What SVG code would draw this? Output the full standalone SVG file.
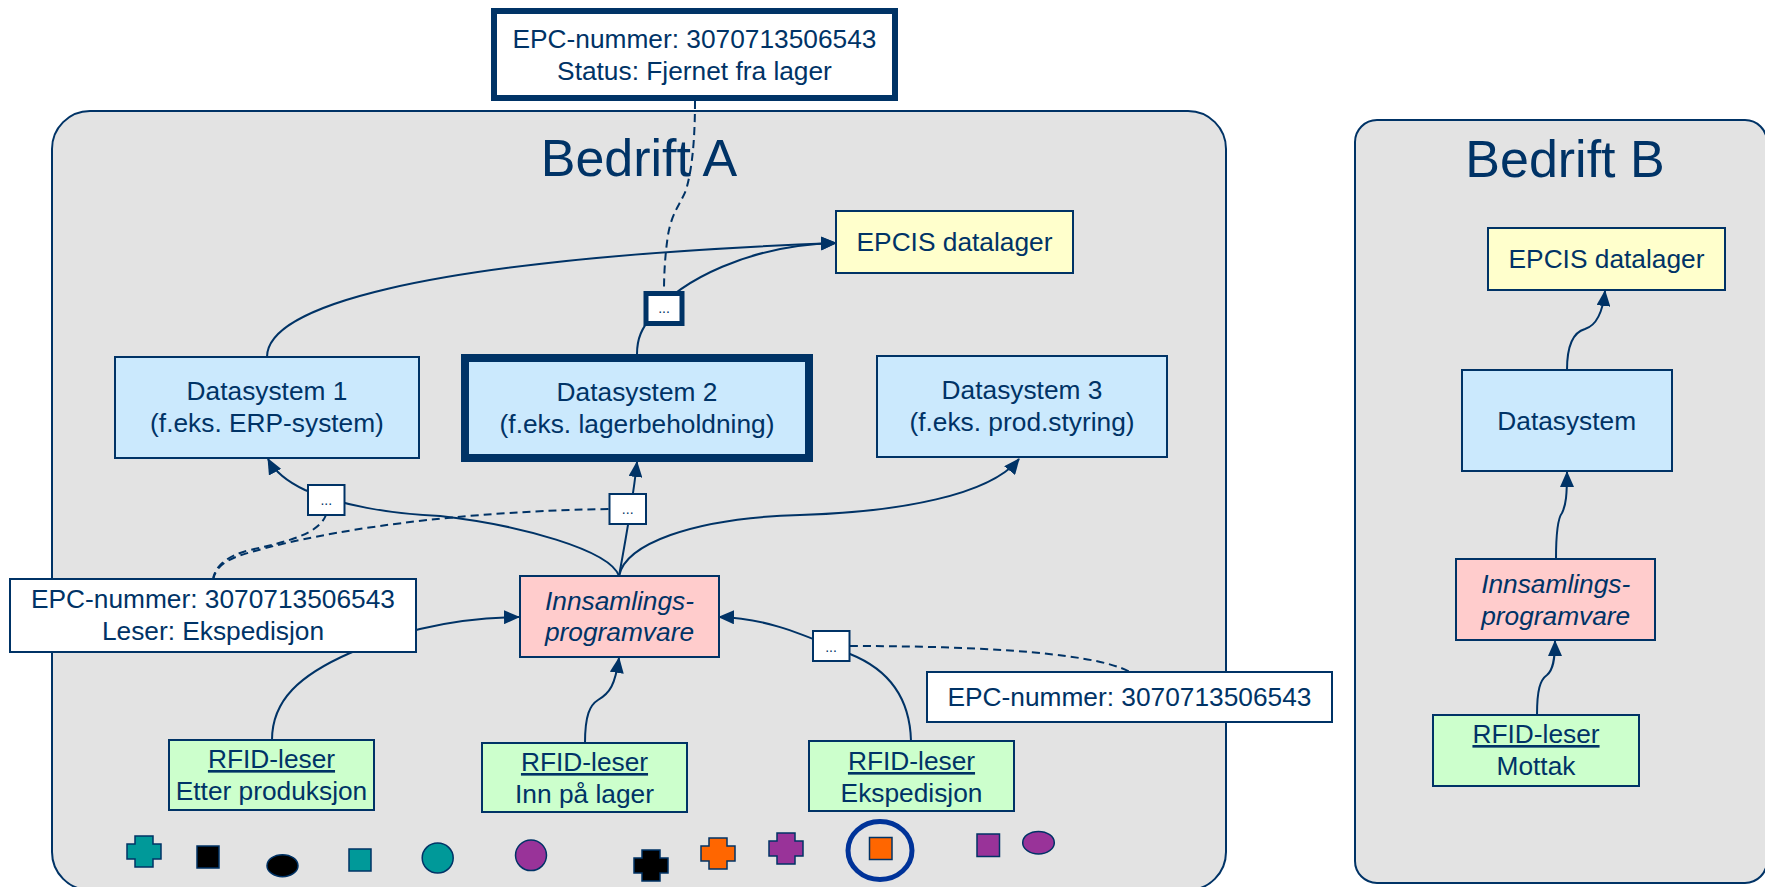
<svg xmlns="http://www.w3.org/2000/svg" xmlns:xlink="http://www.w3.org/1999/xlink" width="1765" height="887" viewBox="0 0 1765 887">
<style>
text{font-family:"Liberation Sans",Arial,sans-serif;fill:#003366;text-anchor:middle}
.t{font-size:26.3px}
.it{font-size:26.3px;font-style:italic}
.title{font-size:52px}
.dots{font-size:14px}
.u{text-decoration:underline}
.box{stroke:#003366;stroke-width:2}
.ds{fill:#cbe9fd}
.ep{fill:#ffffcc}
.ins{fill:#ffcccc}
.rf{fill:#ccffcc}
.wh{fill:#ffffff}
.cont{fill:#e3e3e3;stroke:#003366;stroke-width:2}
.c{fill:none;stroke:#003366;stroke-width:2}
.d{fill:none;stroke:#003366;stroke-width:2;stroke-dasharray:8 5}
.tok{stroke:#003366;stroke-width:1.5}
</style>
<defs>
<marker id="ah" viewBox="0 0 16 14" refX="15" refY="7" markerWidth="16" markerHeight="14" orient="auto" markerUnits="userSpaceOnUse">
<path d="M0,0 L16,7 L0,14 Z" fill="#003366"/>
</marker>
<path id="cross" d="M8,0 H26 V8 H34 V23 H26 V31 H8 V23 H0 V8 H8 Z"/>
</defs>

<g id="bedrift-a">
<rect class="cont" x="52" y="111" width="1174" height="779" rx="38" ry="38"/>
<text class="title" x="639" y="176">Bedrift A</text>
</g>
<g id="bedrift-b">
<rect class="cont" x="1355" y="120" width="412" height="763" rx="22" ry="22"/>
<text class="title" x="1565" y="177">Bedrift B</text>
</g>

<g id="connectors">
<path class="c" d="M267,357 C267,310 400,260 836,243" marker-end="url(#ah)"/>
<path class="c" d="M637,354 C637,338 642,328 652,316 C680,280 750,245 836,243" marker-end="url(#ah)"/>
<path class="d" d="M695,101 C695,140 692,170 686,190 C680,205 672,212 668,235 C665,255 664,275 664,291"/>
<path class="c" d="M619,576 C610,550 520,525 440,516 C390,514 340,505 305,490 C288,482 275,472 268,459" marker-end="url(#ah)"/>
<path class="c" d="M619,576 Q633,500 637,462" marker-end="url(#ah)"/>
<path class="c" d="M619,576 C625,545 690,518 800,515 C900,512 990,495 1019,459" marker-end="url(#ah)"/>
<path class="d" d="M213,580 C214,568 225,556 250,550 C285,542 318,535 326,515"/>
<path class="d" d="M213,580 C216,565 228,558 255,551 C300,538 420,512 610,509"/>
<path class="c" d="M272,740 C272,700 300,675 350,653 C390,636 440,618 519,617" marker-end="url(#ah)"/>
<path class="c" d="M585,743 C585,715 590,705 598,700 C610,693 615,685 619,658" marker-end="url(#ah)"/>
<path class="c" d="M911,741 C910,700 890,670 850,654 C810,638 770,618 719,617" marker-end="url(#ah)"/>
<path class="d" d="M850,646 C950,646 1090,650 1130,672"/>
<path class="c" d="M1537,715 C1537,690 1540,680 1547,675 C1553,670 1555,660 1555,641" marker-end="url(#ah)"/>
<path class="c" d="M1556,559 C1556,530 1558,518 1562,513 C1566,505 1567,495 1567,472" marker-end="url(#ah)"/>
<path class="c" d="M1567,370 C1567,345 1574,332 1585,329 C1598,325 1603,310 1605,291" marker-end="url(#ah)"/>
</g>

<g id="epc-status">
<rect x="494" y="11" width="401" height="87" fill="#ffffff" stroke="#003366" stroke-width="6"/>
<text class="t" x="694.5" y="48">EPC-nummer: 3070713506543</text>
<text class="t" x="694.5" y="80">Status: Fjernet fra lager</text>
</g>
<g id="epcis-a">
<rect class="box ep" x="836" y="211" width="237" height="62"/>
<text class="t" x="954.5" y="251">EPCIS datalager</text>
</g>
<g id="datasystem-1">
<rect class="box ds" x="115" y="357" width="304" height="101"/>
<text class="t" x="267" y="400">Datasystem 1</text>
<text class="t" x="267" y="432">(f.eks. ERP-system)</text>
</g>
<g id="datasystem-2">
<rect class="ds" x="465" y="358" width="344" height="100" stroke="#003366" stroke-width="8"/>
<text class="t" x="637" y="401">Datasystem 2</text>
<text class="t" x="637" y="433">(f.eks. lagerbeholdning)</text>
</g>
<g id="datasystem-3">
<rect class="box ds" x="877" y="356" width="290" height="101"/>
<text class="t" x="1022" y="399">Datasystem 3</text>
<text class="t" x="1022" y="431">(f.eks. prod.styring)</text>
</g>
<g id="label-1">
<rect x="646" y="293.5" width="36" height="30" fill="#ffffff" stroke="#003366" stroke-width="5"/>
<text class="dots" x="664" y="313">...</text>
</g>
<g id="label-2">
<rect class="box wh" x="308" y="485" width="36.5" height="30"/>
<text class="dots" x="326.3" y="505">...</text>
</g>
<g id="label-3">
<rect class="box wh" x="609.5" y="494" width="36.5" height="30"/>
<text class="dots" x="627.7" y="514">...</text>
</g>
<g id="label-4">
<rect class="box wh" x="813" y="631" width="36.5" height="30"/>
<text class="dots" x="831" y="652">...</text>
</g>
<g id="innsamling-a">
<rect class="box ins" x="520" y="576" width="199" height="81"/>
<text class="it" x="619.5" y="610">Innsamlings-</text>
<text class="it" x="619.5" y="641">programvare</text>
</g>
<g id="epc-leser">
<rect class="box wh" x="10" y="579" width="406" height="73"/>
<text class="t" x="213" y="608">EPC-nummer: 3070713506543</text>
<text class="t" x="213" y="640">Leser: Ekspedisjon</text>
</g>
<g id="epc-nummer">
<rect class="box wh" x="927" y="672" width="405" height="50"/>
<text class="t" x="1129.5" y="706">EPC-nummer: 3070713506543</text>
</g>
<g id="rfid-etter">
<rect class="box rf" x="169" y="740" width="205" height="70"/>
<text class="t u" x="271.5" y="768">RFID-leser</text>
<text class="t" x="271.5" y="800">Etter produksjon</text>
</g>
<g id="rfid-inn">
<rect class="box rf" x="482" y="743" width="205" height="69"/>
<text class="t u" x="584.5" y="771">RFID-leser</text>
<text class="t" x="584.5" y="803">Inn på lager</text>
</g>
<g id="rfid-eksp">
<rect class="box rf" x="809" y="741" width="205" height="70"/>
<text class="t u" x="911.5" y="770">RFID-leser</text>
<text class="t" x="911.5" y="802">Ekspedisjon</text>
</g>

<g id="epcis-b">
<rect class="box ep" x="1488" y="228" width="237" height="62"/>
<text class="t" x="1606.5" y="268">EPCIS datalager</text>
</g>
<g id="datasystem-b">
<rect class="box ds" x="1462" y="370" width="210" height="101"/>
<text class="t" x="1566.7" y="430">Datasystem</text>
</g>
<g id="innsamling-b">
<rect class="box ins" x="1456" y="559" width="199" height="81"/>
<text class="it" x="1555.7" y="593">Innsamlings-</text>
<text class="it" x="1555.7" y="625">programvare</text>
</g>
<g id="rfid-mottak">
<rect class="box rf" x="1433" y="715" width="206" height="71"/>
<text class="t u" x="1536" y="743">RFID-leser</text>
<text class="t" x="1536" y="775">Mottak</text>
</g>

<g id="tokens">
<use href="#cross" xlink:href="#cross" x="127" y="836" fill="#009999" class="tok"/>
<rect class="tok" x="197" y="846" width="22" height="22" fill="#000000"/>
<ellipse class="tok" cx="282.5" cy="865.7" rx="15.5" ry="11" fill="#000000"/>
<rect class="tok" x="349" y="849" width="22" height="22" fill="#009999"/>
<ellipse class="tok" cx="437.7" cy="858" rx="15.5" ry="15" fill="#009999"/>
<ellipse class="tok" cx="531" cy="855.3" rx="15.5" ry="15.3" fill="#993399"/>
<use href="#cross" xlink:href="#cross" x="634" y="850" fill="#000000" class="tok"/>
<use href="#cross" xlink:href="#cross" x="701" y="838" fill="#ff6600" class="tok"/>
<use href="#cross" xlink:href="#cross" x="769" y="833" fill="#993399" class="tok"/>
<ellipse cx="880" cy="850.5" rx="32" ry="29" fill="none" stroke="#003399" stroke-width="5"/>
<rect class="tok" x="869.5" y="837.5" width="22.5" height="22" fill="#ff6600"/>
<rect class="tok" x="977" y="834" width="22.5" height="22.5" fill="#993399"/>
<ellipse class="tok" cx="1038.5" cy="842.7" rx="15.8" ry="11.3" fill="#993399"/>
</g>
</svg>
